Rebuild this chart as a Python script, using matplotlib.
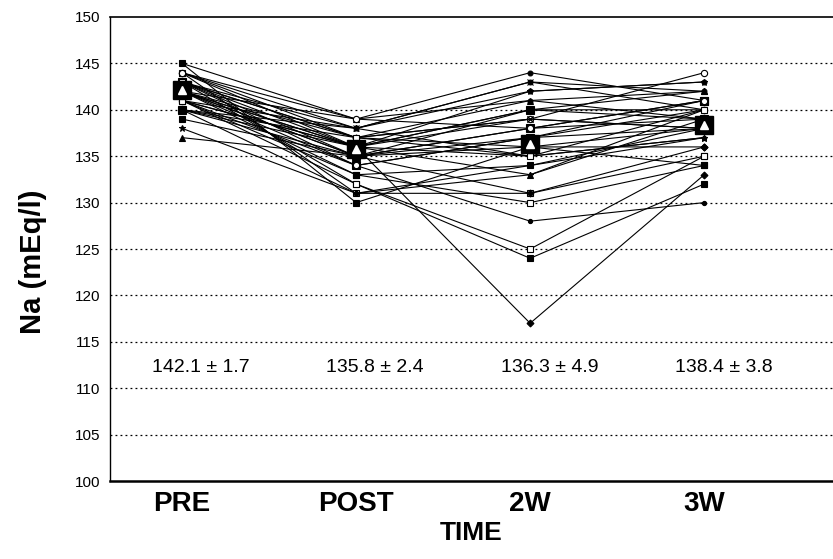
import matplotlib
matplotlib.use("Agg")
import matplotlib.pyplot as plt

plt.rcParams['font.family'] = ['Liberation Sans', 'DejaVu Sans']

categories = ["PRE", "POST", "2W", "3W"]
pre  = [145, 145, 144, 144, 144, 144, 143, 143, 143, 143, 143, 143, 142, 142, 142, 142, 142, 142,
        142, 142, 141, 141, 141, 141, 141, 141, 140, 140, 140, 140, 140, 139, 138, 137, 144, 143]
post = [139, 130, 138, 136, 137, 131, 138, 136, 135, 134, 137, 132, 136, 139, 135, 133, 136, 137,
        134, 135, 136, 133, 138, 136, 134, 132, 137, 135, 131, 136, 138, 135, 131, 135, 139, 137]
w2   = [144, 136, 142, 140, 139, 131, 143, 117, 138, 137, 141, 124, 135, 141, 140, 130, 139, 136,
        128, 138, 142, 134, 135, 133, 137, 125, 139, 131, 134, 140, 143, 136, 133, 137, 138, 135]
w3   = [141, 138, 143, 142, 144, 135, 140, 133, 139, 141, 139, 132, 137, 142, 140, 134, 138, 136,
        130, 141, 143, 138, 137, 139, 140, 135, 138, 136, 137, 139, 142, 134, 140, 138, 141, 140]
means = [142.1, 135.8, 136.3, 138.4]
sds = [1.7, 2.4, 4.9, 3.8]
yticks = [100, 105, 110, 115, 120, 125, 130, 135, 140, 145, 150]

fig = plt.figure(figsize=(8.33, 5.59), dpi=100)
ax = fig.add_axes([0.132, 0.1395, 0.868, 0.8301])

xs = list(range(len(categories)))
marker_cycle = [('o', 'k', 3.5), ('s', 'k', 4.5), ('*', 'k', 5), ('^', 'k', 4), ('o', 'w', 4.5),
                ('s', 'w', 4.5), ('x', 'k', 4), ('D', 'k', 3.5), ('o', 'k', 3), ('s', 'k', 5.5)]
for i in range(len(pre)):
    vals = [pre[i], post[i], w2[i], w3[i]]
    m, fc, ms = marker_cycle[i % len(marker_cycle)]
    ax.plot(xs, vals, color='black', lw=0.8, marker=m, markersize=ms,
            markerfacecolor=fc, markeredgecolor='black', markeredgewidth=0.8, zorder=3)

ax.plot(xs, means, linestyle='none', marker='s', markersize=13, markerfacecolor='black',
        markeredgecolor='black', zorder=5)
ax.plot(xs, means, linestyle='none', marker='^', markersize=6, markerfacecolor='white',
        markeredgecolor='white', zorder=6)

for x, m, s in zip(xs, means, sds):
    ax.text(x + 0.11, 112.2, f"{m:.1f} ± {s:.1f}", ha='center', va='center', fontsize=14)

ax.set_ylim(100, 150)
ax.set_xlim(-0.414, 3.74)
ax.set_yticks(yticks)
ax.set_yticklabels([str(t) for t in yticks], fontsize=11)
ax.set_xticks(xs)
ax.set_xticklabels(categories, fontsize=20, fontweight='bold')
ax.tick_params(axis='both', length=0)
ax.tick_params(axis='y', pad=7)
ax.tick_params(axis='x', pad=7)
for t in [105, 110, 115, 120, 125, 130, 135, 140, 145]:
    ax.axhline(t, color='black', lw=0.9, linestyle=(0, (1.5, 2.5)), zorder=1)
ax.spines['right'].set_visible(False)
ax.spines['top'].set_linewidth(1.2)
ax.spines['left'].set_linewidth(1.0)
ax.spines['bottom'].set_linewidth(1.8)

ax.set_xlabel("TIME", fontsize=19, fontweight='bold', labelpad=3)
ax.set_ylabel("Na (mEq/l)", fontsize=21, fontweight='bold')
ax.yaxis.set_label_coords(-0.087, 0.472)

fig.savefig("out.png", dpi=100)
